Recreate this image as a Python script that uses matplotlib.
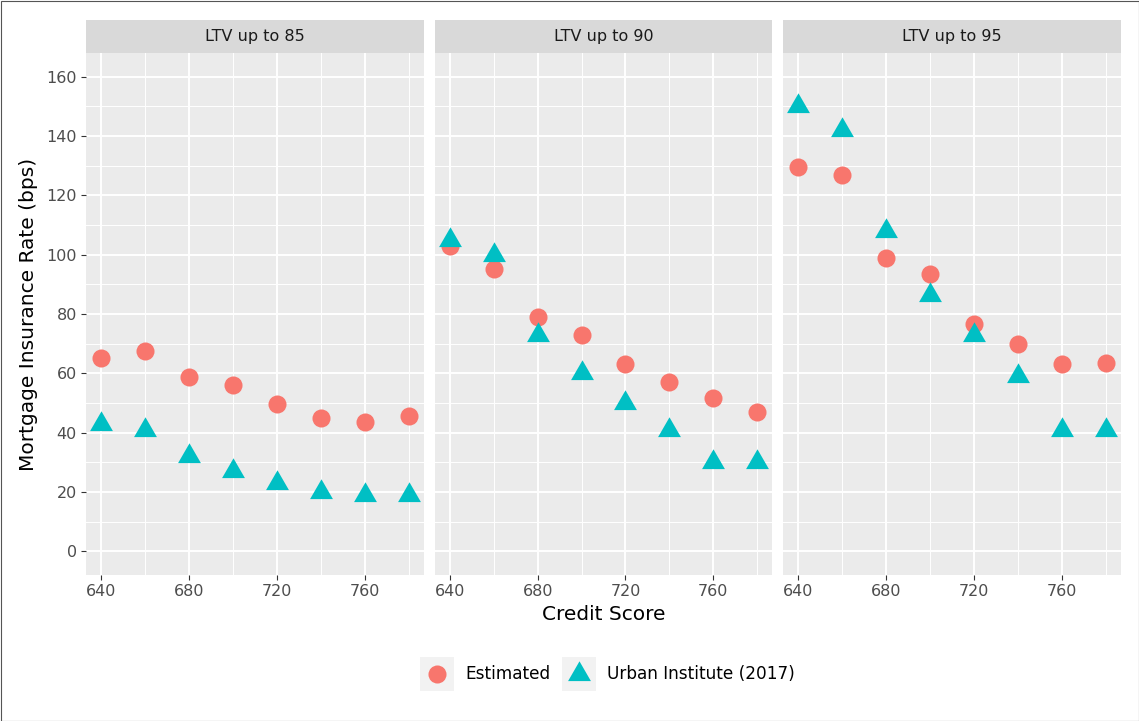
import matplotlib
matplotlib.use("Agg")
import matplotlib.pyplot as plt
from matplotlib.patches import Rectangle

# Mortgage insurance rates by credit score, faceted by LTV bucket
credit_scores = [640, 660, 680, 700, 720, 740, 760, 780]
panels = ["LTV up to 85", "LTV up to 90", "LTV up to 95"]

estimated_85 = [65.3, 67.5, 58.6, 56.0, 49.7, 44.9, 43.5, 45.5]
estimated_90 = [102.9, 95.3, 79.1, 72.8, 63.2, 57.1, 51.6, 47.0]
estimated_95 = [129.4, 127.0, 99.0, 93.4, 76.5, 69.8, 63.1, 63.6]

urban_85 = [43, 41, 32, 27, 23, 20, 19, 19]
urban_90 = [105, 100, 73, 60, 50, 41, 30, 30]
urban_95 = [150, 142, 108, 86.5, 73, 59, 41, 41]

estimated = [estimated_85, estimated_90, estimated_95]
urban = [urban_85, urban_90, urban_95]

series_labels = ["Estimated", "Urban Institute (2017)"]
y_ticks = [0, 20, 40, 60, 80, 100, 120, 140, 160]
x_ticks = [640, 680, 720, 760]

RED = "#F8766D"
CYAN = "#00BFC4"
PANEL_BG = "#EBEBEB"
STRIP_BG = "#D9D9D9"

W, H = 1139, 721
# equilateral triangle centred on its centroid (ggplot shape 17)
tri = [(0, 1), (-0.866, -0.5), (0.866, -0.5), (0, 1)]

plt.rcParams["font.family"] = ["DejaVu Sans"]

fig = plt.figure(figsize=(W / 100, H / 100), dpi=100)

panel_left = [86, 434.5, 783]
panel_w = 338
panel_top, panel_bottom = 53, 575
strip_h = 33

for i, name in enumerate(panels):
    ax = fig.add_axes([panel_left[i] / W, 1 - panel_bottom / H,
                       panel_w / W, (panel_bottom - panel_top) / H])
    ax.set_facecolor(PANEL_BG)
    ax.set_xlim(633, 787)
    ax.set_ylim(-8, 168)
    for s in ax.spines.values():
        s.set_visible(False)

    # grid: major + minor like ggplot
    for v in x_ticks:
        ax.axvline(v, color="white", lw=1.4, zorder=1)
        ax.axvline(v + 20, color="white", lw=0.7, zorder=1)
    for v in y_ticks:
        ax.axhline(v, color="white", lw=1.4, zorder=1)
        if v + 10 < 168:
            ax.axhline(v + 10, color="white", lw=0.7, zorder=1)

    ax.plot(credit_scores, estimated[i], linestyle="none", marker="o",
            markersize=13, color=RED, markeredgewidth=0, zorder=3)
    ax.plot(credit_scores, urban[i], linestyle="none", marker=tri,
            markersize=19, color=CYAN, markeredgewidth=0, zorder=3)

    ax.set_xticks(x_ticks)
    ax.set_xticklabels([str(t) for t in x_ticks])
    ax.tick_params(axis="x", length=3.5, width=0.8, color="#333333",
                   labelsize=11.5, labelcolor="#4D4D4D", pad=3)
    ax.set_yticks(y_ticks)
    if i == 0:
        ax.set_yticklabels([str(t) for t in y_ticks])
        ax.tick_params(axis="y", length=3.5, width=0.8, color="#333333",
                       labelsize=11.5, labelcolor="#4D4D4D", pad=3)
        ax.set_ylabel("Mortgage Insurance Rate (bps)", fontsize=14.5,
                      color="black", labelpad=6)
    else:
        ax.tick_params(axis="y", length=0, labelleft=False)

    # facet strip
    sh = strip_h / (panel_bottom - panel_top)
    ax.add_patch(Rectangle((0, 1), 1, sh, transform=ax.transAxes,
                           facecolor=STRIP_BG, edgecolor="none", clip_on=False))
    ax.text(0.5, 1 + sh / 2, name, transform=ax.transAxes, ha="center",
            va="center", fontsize=11.5, color="#1A1A1A")

fig.text(603.5 / W, 1 - 614 / H, "Credit Score", ha="center", va="center",
         fontsize=14.5)

# legend drawn in pixel space
lg = fig.add_axes([0, 0, 1, 1], zorder=-1)
lg.set_xlim(0, W)
lg.set_ylim(H, 0)
lg.axis("off")
key_y = 674
keys = [(437, "o", 13, RED), (579, tri, 19, CYAN)]
for (kx, mk, ms, col), label in zip(keys, series_labels):
    lg.add_patch(Rectangle((kx - 17, key_y - 17), 34, 34,
                           facecolor="#F2F2F2", edgecolor="none"))
    lg.plot([kx], [key_y], linestyle="none", marker=mk, markersize=ms,
            color=col, markeredgewidth=0)
    lg.text(kx + 28, key_y, label, ha="left", va="center", fontsize=12.2)

# thin frame around the whole picture
lg.add_patch(Rectangle((0.5, 0.5), W - 1, H - 1, facecolor="none",
                       edgecolor="#555555", lw=0.8))

fig.savefig("out.png", dpi=100)
